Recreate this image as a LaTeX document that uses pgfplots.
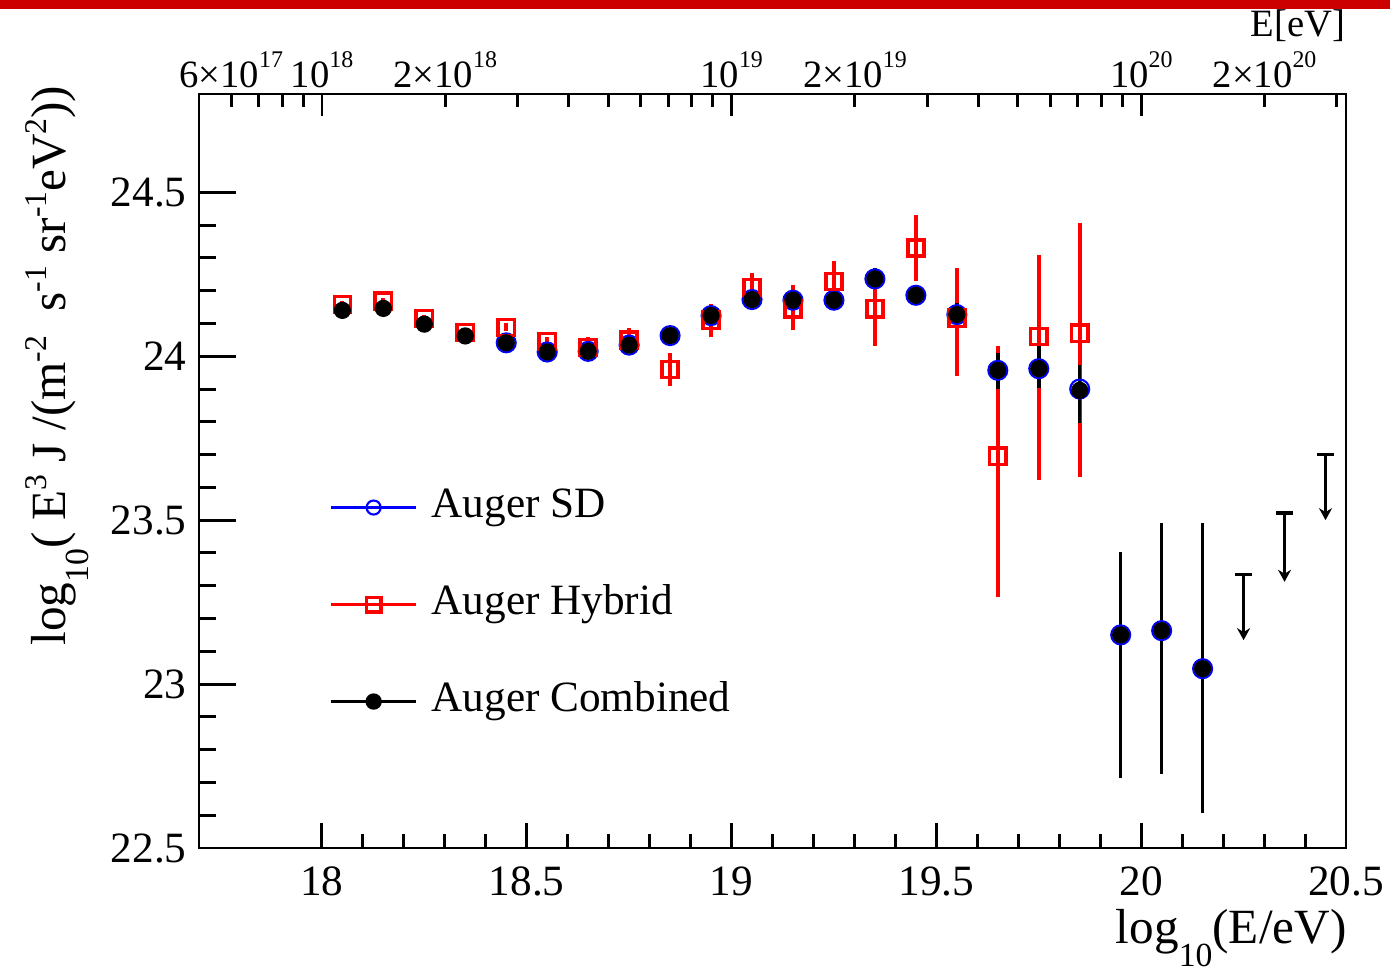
\documentclass[border=0pt]{standalone}
\usepackage{fontspec}
\setmainfont{Liberation Serif}
\usepackage{pgfplots}
\usepackage{pgfplotstable}
\pgfplotsset{compat=1.18}
\usetikzlibrary{arrows.meta}
\definecolor{slidered}{RGB}{204,0,0}
\definecolor{hybred}{RGB}{255,0,0}
\definecolor{sdblue}{RGB}{0,0,255}
\newcommand\lsub[1]{\raisebox{-6.5pt}{\fontsize{9.6}{11}\selectfont #1}}
\newcommand\lsup[1]{\raisebox{5.5pt}{\fontsize{9}{10}\selectfont #1}}
\newcommand\tsup[1]{\raisebox{5.7pt}{\fontsize{6.8}{8}\selectfont #1}}

\pgfplotstableread{
x y ep em
18.05 24.158 0.010 0.010
18.15 24.168 0.010 0.010
18.25 24.115 0.010 0.010
18.35 24.072 0.010 0.010
18.45 24.088 0.012 0.012
18.55 24.045 0.015 0.015
18.65 24.027 0.033 0.033
18.75 24.050 0.037 0.037
18.85 23.960 0.050 0.050
18.95 24.110 0.050 0.050
19.05 24.210 0.045 0.045
19.15 24.145 0.073 0.065
19.25 24.228 0.062 0.060
19.35 24.145 0.065 0.115
19.45 24.330 0.100 0.100
19.55 24.116 0.154 0.176
19.65 23.695 0.335 0.430
19.75 24.060 0.250 0.436
19.85 24.070 0.335 0.437
}\hybrid

\pgfplotstableread{
x y ep em
18.05 24.140 0.008 0.008
18.15 24.146 0.008 0.008
18.25 24.098 0.008 0.008
18.35 24.062 0.008 0.008
18.45 24.041 0.008 0.008
18.55 24.013 0.010 0.010
18.65 24.015 0.010 0.010
18.75 24.034 0.012 0.012
18.85 24.063 0.014 0.014
18.95 24.124 0.018 0.018
19.05 24.173 0.020 0.020
19.15 24.171 0.024 0.024
19.25 24.171 0.028 0.028
19.35 24.236 0.032 0.032
19.45 24.186 0.030 0.030
19.55 24.127 0.035 0.035
19.65 23.957 0.054 0.056
19.75 23.962 0.072 0.060
19.85 23.896 0.077 0.100
19.95 23.150 0.254 0.436
20.05 23.163 0.327 0.437
20.15 23.047 0.443 0.440
}\combined

\pgfplotstableread{
x y
18.45 24.041
18.55 24.013
18.65 24.015
18.75 24.034
18.85 24.063
18.95 24.124
19.05 24.173
19.15 24.171
19.25 24.171
19.35 24.236
19.45 24.186
19.55 24.127
19.65 23.957
19.75 23.962
19.85 23.900
19.95 23.150
20.05 23.163
20.15 23.047
}\sd

\pgfplotstableread{
x y dy
20.25 23.334 -0.200
20.35 23.522 -0.210
20.45 23.700 -0.200
}\limits

\begin{document}
\begin{tikzpicture}
\useasboundingbox (0,0) rectangle (13.9cm,9.69cm);
\fill[slidered] (0,9.6cm) rectangle (13.9cm,9.69cm);
\begin{axis}[
  at={(1.99cm,1.21cm)}, anchor=south west,
  scale only axis, width=11.47cm, height=7.54cm,
  xmin=17.7, xmax=20.5, ymin=22.5, ymax=24.8,
  xtick={18,18.5,19,19.5,20,20.5}, minor x tick num=4,
  ytick={22.5,23,23.5,24,24.5}, minor y tick num=4,
  xtick pos=left, ytick pos=left,
  tick align=inside,
  xtick style={/pgfplots/major tick length=0.25cm, /pgfplots/minor tick length=0.14cm},
  ytick style={/pgfplots/major tick length=0.37cm, /pgfplots/minor tick length=0.17cm},
  axis line style={line width=0.85pt},
  tick style={line width=0.85pt, black},
  /pgf/number format/assume math mode=true,
  tick label style={font=\fontsize{12.3}{14}\selectfont},
  xticklabel style={anchor=base, yshift=-0.48cm},
  label style={font=\fontsize{14}{16}\selectfont, inner sep=0pt},
  xlabel={log\lsub{10}(E/eV)},
  xlabel style={at={(axis description cs:1.001,-0.127)}, anchor=base east},
  ylabel={log\lsub{10}( E\lsup{3} J /(m\lsup{-2}\ \ s\lsup{-1} sr\lsup{-1}eV\lsup{2}))},
  ylabel style={at={(axis description cs:-0.116,1.012)}, anchor=base east, rotate=0},
  legend style={at={(axis description cs:0.1133,0.479)}, anchor=north west,
    draw=none, fill=none, inner sep=0pt, row sep=0.57cm, column sep=0.14cm,
    font=\fontsize{12.3}{14}\selectfont,
    nodes={inner sep=0pt, text height=0.3cm, text depth=0.1cm}},
  legend cell align=left,
  legend image code/.code={\draw[mark repeat=2,mark phase=2,#1] plot coordinates {(0cm,0cm) (0.425cm,0cm) (0.85cm,0cm)};},
]
\addlegendimage{sdblue, line width=0.85pt, mark=o, mark size=2pt, mark options={line width=0.6pt}}
\addlegendentry{Auger SD}
\addlegendimage{hybred, line width=0.85pt, mark=square, mark size=2.1pt, mark options={line width=0.9pt}}
\addlegendentry{Auger Hybrid}
\addlegendimage{black, line width=0.85pt, mark=*, mark size=1.9pt}
\addlegendentry{Auger Combined}

% SD
\addplot[forget plot, only marks, sdblue, mark=o, mark size=2.7pt, mark options={line width=0.6pt}] table[x=x, y=y] {\sd};
% Hybrid
\addplot[forget plot, only marks, hybred, mark=square, mark size=2.3pt, mark options={line width=1pt, fill=white},
  error bars/.cd, y dir=both, y explicit, error mark=none, error bar style={line width=1.1pt, hybred}]
  table[x=x, y=y, y error plus=ep, y error minus=em] {\hybrid};
% Combined
\addplot[forget plot, only marks, black, mark=*, mark size=2.25pt,
  error bars/.cd, y dir=both, y explicit, error mark=none, error bar style={line width=1pt, black}]
  table[x=x, y=y, y error plus=ep, y error minus=em] {\combined};
% Upper limits
\addplot[forget plot, black, line width=1pt, -{Stealth[length=0.12cm, width=0.13cm]},
  quiver={u=0, v=\thisrow{dy}}] table[x=x, y=y] {\limits};
\addplot[forget plot, only marks, black, mark=-, mark size=2.4pt, mark options={line width=1pt}] table[x=x, y=y] {\limits};
\end{axis}

\begin{axis}[
  at={(1.99cm,1.21cm)}, anchor=south west,
  scale only axis, width=11.47cm, height=7.54cm,
  xmode=log, xmin=5.01187e17, xmax=3.16228e20, ymin=0, ymax=1,
  axis x line*=top, hide y axis,
  axis line style={line width=0.85pt},
  tick style={line width=0.85pt, black},
  tick align=inside,
  major tick length=0.22cm, minor tick length=0.13cm,
  xtick={1e18,1e19,1e20},
  xticklabels={10\tsup{18},10\tsup{19},10\tsup{20}},
  extra x ticks={6e17,2e18,2e19,2e20},
  extra x tick labels={6×10\tsup{17},2×10\tsup{18},2×10\tsup{19},2×10\tsup{20}},
  extra x tick style={/pgfplots/major tick length=0.13cm},
  minor xtick={7e17,8e17,9e17,3e18,4e18,5e18,6e18,7e18,8e18,9e18,3e19,4e19,5e19,6e19,7e19,8e19,9e19,3e20},
  xticklabel style={font=\fontsize{11}{13}\selectfont, anchor=base, yshift=0.06cm},
  xlabel={E[eV]},
  xlabel style={font=\fontsize{11}{13}\selectfont, inner sep=0pt, at={(axis description cs:1.0,1.0756)}, anchor=base east},
]
\addplot[draw=none, mark=none] coordinates {(1e18,0.5) (1e19,0.5)};
\end{axis}
\end{tikzpicture}
\end{document}
